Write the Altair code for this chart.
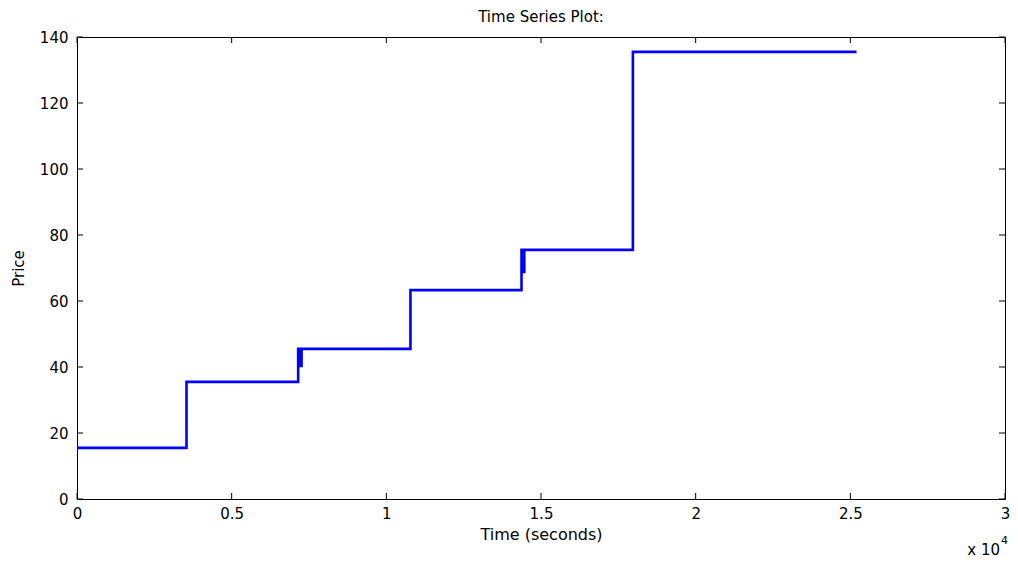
import altair as alt
import pandas as pd

# Step series (time in seconds, price)
times = [0, 3540, 7150, 7230, 7260, 10780, 14370, 14430, 14460, 17970, 25200]
prices = [15.5, 35.5, 45.5, 40.3, 45.5, 63.3, 75.5, 68.8, 75.5, 135.5, 135.5]

x_ticks = [0, 5000, 10000, 15000, 20000, 25000, 30000]
y_ticks = [0, 20, 40, 60, 80, 100, 120, 140]

W, H = 928, 462
FONT = "DejaVu Sans"
FS = 15

df = pd.DataFrame({"t": times, "p": prices})
xt = pd.DataFrame({"v": x_ticks})
yt = pd.DataFrame({"v": y_ticks})

xscale = alt.Scale(domain=[0, 30000], nice=False, zero=False)
yscale = alt.Scale(domain=[0, 140], nice=False, zero=False)

line = alt.Chart(df).mark_line(color="#0000FF", strokeWidth=2.6, interpolate="step-after").encode(
    x=alt.X("t:Q", scale=xscale, title="Time (seconds)",
            axis=alt.Axis(values=x_ticks, labelExpr="datum.value / 10000", ticks=False, domain=False,
                          grid=False, labelPadding=7, labelFontSize=FS, labelColor="#000",
                          labelFlush=False, labelOverlap=False,
                          titleFontSize=16, titleFontWeight="normal", titlePadding=5, titleColor="#000",
                          labelFont=FONT, titleFont=FONT)),
    y=alt.Y("p:Q", scale=yscale, title="Price",
            axis=alt.Axis(values=y_ticks, ticks=False, domain=False, grid=False, labelPadding=9,
                          labelFlush=False, labelOverlap=False,
                          labelFontSize=FS, labelColor="#000", titleFontSize=FS, titleFontWeight="normal",
                          titlePadding=13, titleColor="#000", labelFont=FONT, titleFont=FONT)),
)

tick_len = 6
xb = alt.Chart(xt).mark_rule(color="#000", strokeWidth=1).encode(
    x=alt.X("v:Q", scale=xscale), y=alt.value(H), y2=alt.value(H - tick_len))
xtop = alt.Chart(xt).mark_rule(color="#000", strokeWidth=1).encode(
    x=alt.X("v:Q", scale=xscale), y=alt.value(0), y2=alt.value(tick_len))
yl = alt.Chart(yt).mark_rule(color="#000", strokeWidth=1).encode(
    y=alt.Y("v:Q", scale=yscale), x=alt.value(0), x2=alt.value(tick_len))
yr = alt.Chart(yt).mark_rule(color="#000", strokeWidth=1).encode(
    y=alt.Y("v:Q", scale=yscale), x=alt.value(W), x2=alt.value(W - tick_len))

exp_txt = alt.Chart(pd.DataFrame({"s": ["x 10"]})).mark_text(
    font=FONT, fontSize=FS, color="#000", align="right", baseline="alphabetic").encode(
    text="s:N", x=alt.value(W - 5), y=alt.value(518))
exp_sup = alt.Chart(pd.DataFrame({"s": ["4"]})).mark_text(
    font=FONT, fontSize=11, color="#000", align="left", baseline="alphabetic").encode(
    text="s:N", x=alt.value(W - 4), y=alt.value(507))

chart = alt.layer(line, xb, xtop, yl, yr, exp_txt, exp_sup).properties(
    width=W, height=H,
    title=alt.TitleParams("Time Series Plot:", fontSize=FS, fontWeight="normal", font=FONT,
                          color="#000", offset=5),
    autosize=alt.AutoSizeParams(type="none"),
    padding={"left": 69, "top": 29, "right": 5, "bottom": 60},
).configure(background="white").configure_view(stroke="#000", strokeWidth=1)

chart.save("out.html", embed_options={"renderer": "svg", "actions": False})
